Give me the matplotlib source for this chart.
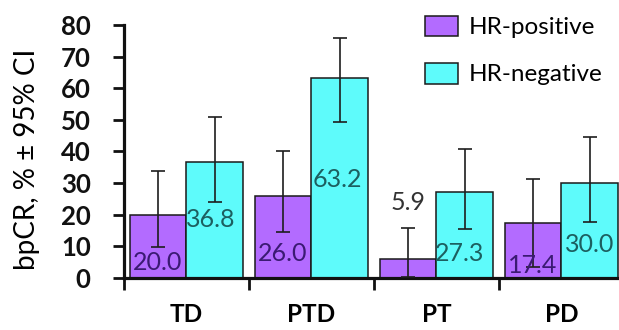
import numpy as np
import matplotlib
matplotlib.use("Agg")
import matplotlib.pyplot as plt

plt.rcParams['font.family'] = ['Lato', 'DejaVu Sans']

# --- Data ---
groups = ['TD', 'PTD', 'PT', 'PD']
series = ['HR-positive', 'HR-negative']
hr_pos = [20.0, 26.0, 5.9, 17.4]
hr_neg = [36.8, 63.2, 27.3, 30.0]
pos_low = [9.7, 14.6, 0.4, 3.5]
pos_high = [33.7, 40.2, 15.7, 31.3]
neg_low = [24.1, 49.2, 15.6, 17.8]
neg_high = [51.0, 76.0, 40.8, 44.6]
yticks = [0, 10, 20, 30, 40, 50, 60, 70, 80]

# where the value labels sit (data units)
pos_label_y = [4.8, 7.6, 23.8, 4.1]
neg_label_y = [18.4, 31.1, 7.9, 10.5]
neg_label_dx = [-0.03, -0.02, -0.04, 0.0]

# --- Style ---
c_pos = '#b36bff'
c_neg = '#5efbfb'
t_pos = '#3b1a73'
t_neg = '#1c5f60'

fig = plt.figure(figsize=(6.19, 3.3), dpi=100)
ax = fig.add_axes((0.2003, 0.1576, 0.7997, 0.7667))

x = np.arange(len(groups))
w = 0.455
xp = x - w / 2
xn = x + w / 2

ax.bar(xp, hr_pos, width=w, color=c_pos, edgecolor='#1a1a1a', linewidth=1.1,
       label=series[0], zorder=2)
ax.bar(xn, hr_neg, width=w, color=c_neg, edgecolor='#1a1a1a', linewidth=1.1,
       label=series[1], zorder=2)

pos_err = [np.array(hr_pos) - np.array(pos_low), np.array(pos_high) - np.array(hr_pos)]
neg_err = [np.array(hr_neg) - np.array(neg_low), np.array(neg_high) - np.array(hr_neg)]
ax.errorbar(xp, hr_pos, yerr=pos_err, fmt='none', ecolor='#1e1e1e',
            elinewidth=1.2, capsize=4.8, capthick=1.2, zorder=3)
ax.errorbar(xn, hr_neg, yerr=neg_err, fmt='none', ecolor='#1e1e1e',
            elinewidth=1.2, capsize=4.8, capthick=1.2, zorder=3)

for i in range(len(groups)):
    col = t_pos if hr_pos[i] > 10 else '#333333'
    ax.text(xp[i], pos_label_y[i], f'{hr_pos[i]:.1f}', ha='center', va='center',
            fontsize=18, color=col, zorder=4)
    ax.text(xn[i] + neg_label_dx[i], neg_label_y[i], f'{hr_neg[i]:.1f}',
            ha='center', va='center', fontsize=18, color=t_neg, zorder=4)

ax.set_xlim(-0.5, 3.46)
ax.set_ylim(0, 80)
ax.set_yticks(yticks)
ax.set_yticklabels([str(v) for v in yticks], fontsize=18.5, fontweight='bold')
ax.tick_params(axis='y', direction='out', length=8, width=2, pad=16, colors='#111111')

ax.set_xticks(x - 0.5)
ax.set_xticklabels([])
ax.tick_params(axis='x', which='major', direction='out', length=8.5, width=2, colors='#111111')
ax.set_xticks(x, minor=True)
ax.set_xticklabels(groups, minor=True, fontsize=17.5, fontweight='bold')
ax.tick_params(axis='x', which='minor', length=0, pad=18)

for s in ['top', 'right']:
    ax.spines[s].set_visible(False)
for s in ['left', 'bottom']:
    ax.spines[s].set_linewidth(2.3)
    ax.spines[s].set_color('#111111')

ax.set_ylabel('bpCR, % ± 95% CI', fontsize=20)
ax.yaxis.set_label_coords(-0.196, 0.47)
ax.yaxis.label.set_va('center')

ax.legend(loc='upper left', bbox_to_anchor=(0.6866, 0.953), bbox_transform=fig.transFigure,
          frameon=False, fontsize=17.5, handlelength=1.35, handleheight=0.95,
          handletextpad=0.45, labelspacing=1.0, borderpad=0, borderaxespad=0)

fig.savefig('out.png', dpi=100)
